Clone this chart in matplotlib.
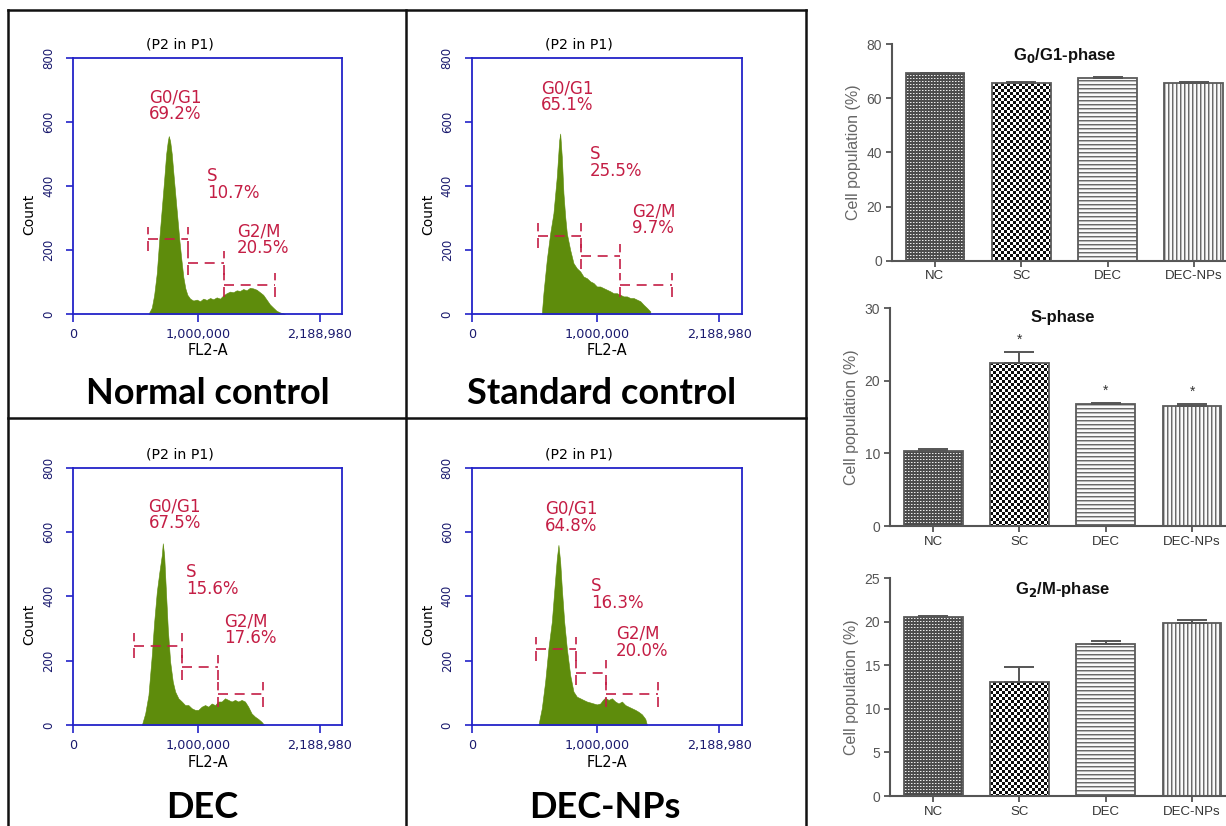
import numpy as np
import matplotlib
matplotlib.use("Agg")
import matplotlib.pyplot as plt
from matplotlib.lines import Line2D

# ---------------- data ----------------
panel_titles = ["Normal control", "Standard control", "DEC", "DEC-NPs"]

# histogram outlines: FL2-A (millions) and counts
nc_x = [0.605, 0.632, 0.651, 0.672, 0.693, 0.712, 0.731, 0.747, 0.760, 0.768, 0.779, 0.792,
        0.805, 0.821, 0.837, 0.853, 0.869, 0.885, 0.901, 0.917, 0.939, 0.965, 0.992, 1.019,
        1.045, 1.072, 1.099, 1.125, 1.152, 1.179, 1.205, 1.232, 1.259, 1.285, 1.312, 1.339,
        1.365, 1.392, 1.419, 1.445, 1.472, 1.499, 1.525, 1.552, 1.579, 1.605, 1.632, 1.659,
        1.685, 1.700]
nc_y = [0, 20, 60, 128, 240, 330, 420, 500, 540, 556, 540, 500,
        440, 370, 300, 230, 170, 115, 80, 60, 48, 42, 45, 40,
        48, 44, 50, 46, 52, 48, 58, 65, 70, 68, 74, 72,
        78, 74, 82, 80, 76, 68, 60, 45, 30, 20, 10, 5,
        2, 0]

sc_x = [0.560, 0.573, 0.600, 0.627, 0.653, 0.680, 0.699, 0.707, 0.720, 0.733, 0.747, 0.760,
        0.787, 0.813, 0.840, 0.867, 0.893, 0.920, 0.947, 0.973, 1.000, 1.027, 1.053, 1.080,
        1.107, 1.133, 1.160, 1.187, 1.213, 1.240, 1.267, 1.293, 1.320, 1.347, 1.373, 1.400,
        1.427]
sc_y = [0, 65, 170, 252, 315, 430, 543, 564, 490, 377, 304, 252,
        200, 159, 143, 133, 117, 112, 102, 97, 86, 86, 81, 76,
        71, 65, 65, 60, 55, 55, 50, 50, 45, 40, 29, 19, 8]

dec_x = [0.552, 0.579, 0.605, 0.632, 0.651, 0.672, 0.693, 0.712, 0.720, 0.731, 0.744, 0.760,
         0.779, 0.800, 0.819, 0.845, 0.872, 0.899, 0.925, 0.952, 0.979, 1.005, 1.032, 1.059,
         1.085, 1.112, 1.139, 1.165, 1.192, 1.219, 1.245, 1.272, 1.299, 1.325, 1.352, 1.379,
         1.405, 1.432, 1.459, 1.485, 1.512, 1.533]
dec_y = [0, 36, 93, 218, 321, 414, 477, 528, 565, 528, 425, 300,
         197, 135, 104, 83, 73, 62, 62, 52, 47, 47, 57, 62,
         57, 67, 62, 73, 73, 83, 78, 73, 78, 73, 78, 73,
         57, 36, 26, 19, 10, 0]

np_x = [0.533, 0.560, 0.587, 0.613, 0.640, 0.661, 0.680, 0.693, 0.707, 0.720, 0.739, 0.760,
        0.787, 0.813, 0.840, 0.867, 0.893, 0.920, 0.947, 0.973, 1.000, 1.027, 1.048, 1.067,
        1.093, 1.120, 1.147, 1.173, 1.200, 1.227, 1.253, 1.280, 1.307, 1.333, 1.360, 1.387,
        1.400]
np_y = [0, 52, 135, 238, 321, 425, 518, 560, 507, 425, 321, 238,
        155, 104, 88, 83, 78, 73, 70, 67, 64, 67, 78, 85,
        78, 83, 73, 67, 73, 62, 57, 52, 47, 41, 33, 19, 0]

hist_x = [nc_x, sc_x, dec_x, np_x]
hist_y = [nc_y, sc_y, dec_y, np_y]

# gate boundaries (FL2-A, millions) and gate marker heights (counts)
gate_edges = [[0.60, 0.92, 1.21, 1.62],
              [0.533, 0.872, 1.181, 1.60],
              [0.493, 0.872, 1.165, 1.52],
              [0.515, 0.832, 1.075, 1.485]]
gate_levels = [[235, 159, 91],
               [245, 180, 90],
               [247, 179, 95],
               [236, 163, 95]]

phase_names = ["G0/G1", "S", "G2/M"]
phase_pct = [["69.2%", "10.7%", "20.5%"],
             ["65.1%", "25.5%", "9.7%"],
             ["67.5%", "15.6%", "17.6%"],
             ["64.8%", "16.3%", "20.0%"]]
# label anchors (FL2-A millions, count at top of text)
label_x = [[0.611, 1.077, 1.317], [0.552, 0.947, 1.280],
           [0.605, 0.904, 1.211], [0.587, 0.952, 1.152]]
label_top = [[705, 459, 286], [734, 527, 350],
             [708, 504, 350], [700, 460, 311]]

hist_xticks = [0, 1.0, 1.979]
hist_xticklabels = ["0", "1,000,000", "2,188,980"]
hist_yticks = [0, 200, 400, 600, 800]

groups = ["NC", "SC", "DEC", "DEC-NPs"]
g01_vals = [69.2, 65.6, 67.3, 65.6]
g01_err = [0.25, 0.2, 0.45, 0.2]
s_vals = [10.4, 22.5, 16.8, 16.6]
s_err = [0.15, 1.5, 0.2, 0.15]
s_sig = [False, True, True, True]
g2m_vals = [20.5, 13.1, 17.5, 19.9]
g2m_err = [0.2, 1.7, 0.3, 0.35]

# ---------------- figure ----------------
W, H = 1226, 826
fig = plt.figure(figsize=(W / 100, H / 100), dpi=100)
fig.patch.set_facecolor("white")


def box(l, t, r, b):
    return [l / W, 1 - b / H, (r - l) / W, (b - t) / H]


GREEN = "#5E8C0C"
CRIMSON = "#C41E45"
BLUE = "#2323C8"
NAVY = "#1A1A6E"

hist_boxes = [box(73, 58, 342, 314), box(471.7, 58, 741.7, 314),
              box(73, 467.7, 342, 725), box(471.7, 467.7, 741.7, 725)]
title_centers = [(208, 393), (602, 393), (202, 807), (605, 807)]

for k in range(4):
    ax = fig.add_axes(hist_boxes[k])
    xs = np.array(hist_x[k])
    ys = np.array(hist_y[k])
    ax.fill_between(xs, ys, 0, color=GREEN, linewidth=0.4, edgecolor=GREEN, zorder=2)
    e = gate_edges[k]
    lv = gate_levels[k]
    for g in range(3):
        ax.plot([e[g], e[g + 1]], [lv[g], lv[g]], color=CRIMSON, lw=1.2,
                dashes=(6, 4), zorder=3)
        for xe in (e[g], e[g + 1]):
            ax.plot([xe, xe], [lv[g] - 38, lv[g] + 38], color=CRIMSON, lw=1.2,
                    dashes=(6, 4), zorder=3)
        ax.text(label_x[k][g], label_top[k][g], phase_names[g] + "\n" + phase_pct[k][g],
                color=CRIMSON, fontsize=12, family="DejaVu Sans", va="top", ha="left",
                linespacing=0.92, zorder=4)
    ax.set_xlim(0, 2.157)
    ax.set_ylim(0, 800)
    ax.set_xticks(hist_xticks)
    ax.set_xticklabels(hist_xticklabels, family="DejaVu Sans", fontsize=9.2, color=NAVY)
    ax.set_yticks(hist_yticks)
    ax.set_yticklabels([str(v) for v in hist_yticks], family="DejaVu Sans", fontsize=8.5,
                       color=NAVY, rotation=90, va="center")
    ax.tick_params(axis="x", direction="out", length=6, width=1.2, color=BLUE, pad=4)
    ax.tick_params(axis="y", direction="out", length=5, width=1.2, color=BLUE, pad=8)
    for sp in ax.spines.values():
        sp.set_color(BLUE)
        sp.set_linewidth(1.3)
    ax.set_xlabel("FL2-A", family="DejaVu Sans", fontsize=10.5)
    ax.xaxis.set_label_coords(0.5, -0.115)
    ax.set_ylabel("Count", family="DejaVu Sans", fontsize=10)
    ax.yaxis.set_label_coords(-0.135, 0.39)
    ax.text(0.396, 1.052, "(P2 in P1)", transform=ax.transAxes, ha="center", va="center",
            family="DejaVu Sans", fontsize=10.2)
    cx, cy = title_centers[k]
    fig.text(cx / W, 1 - cy / H, panel_titles[k], ha="center", va="center",
             family="Lato", fontweight="bold", fontsize=26)

# panel frame lines
def fline(x0, y0, x1, y1):
    fig.add_artist(Line2D([x0 / W, x1 / W], [1 - y0 / H, 1 - y1 / H], color="#111111",
                          lw=1.8, transform=fig.transFigure))

fline(8, 10, 806, 10)
fline(8, 10, 8, 826)
fline(406, 10, 406, 826)
fline(806, 10, 806, 826)
fline(8, 418, 806, 418)

# ---------------- bar charts ----------------
def pattern(kind, h, w):
    i, j = np.indices((h, w))
    if kind == "fine":
        a = np.full((h, w), 0.30)
        a[(i % 3 == 1) & (j % 3 == 1)] = 0.92
        a[(i % 3 == 1) & (j % 3 == 2)] = 0.6
    elif kind == "checker":
        a = np.where(((i // 3) + (j // 3)) % 2 == 0, 0.05, 1.0)
    elif kind == "hlines":
        a = np.where(i % 4 == 0, 0.42, np.where(i % 4 == 1, 0.72, 0.98))
    else:
        a = np.where(j % 4 == 0, 0.42, np.where(j % 4 == 1, 0.72, 0.98))
    return a

kinds = ["fine", "checker", "hlines", "vlines"]
bar_w = 0.68
GREY = "#555555"

def bar_panel(rect, vals, errs, ymax, yticks, title, sig=None):
    ax = fig.add_axes(rect)
    xpos = np.arange(len(groups))
    bars = ax.bar(xpos, vals, width=bar_w, facecolor="none", edgecolor="#5a5a5a",
                  linewidth=1.3, zorder=3)
    hpx = int(round(rect[3] * H))
    wpx = int(round(bar_w * rect[2] * W / 4.0))
    for b, kd, xp in zip(bars, kinds, xpos):
        im = ax.imshow(pattern(kd, hpx, wpx), cmap="gray", vmin=0, vmax=1,
                       extent=(xp - bar_w / 2, xp + bar_w / 2, 0, ymax), aspect="auto",
                       interpolation="nearest", zorder=2)
        im.set_clip_path(b)
    ax.errorbar(xpos, vals, yerr=[[0] * len(vals), errs], fmt="none", ecolor="#555555",
                elinewidth=1.4, capsize=11, capthick=1.4, zorder=4)
    if sig is not None:
        for xp, v, e, s in zip(xpos, vals, errs, sig):
            if s:
                ax.text(xp, v + e + 1.7, "*", ha="center", va="center", fontsize=10,
                        color="#333333", family="Liberation Sans", zorder=5)
    ax.set_xlim(-0.5, 3.5)
    ax.set_ylim(0, ymax)
    ax.set_yticks(yticks)
    ax.set_yticklabels([str(t) for t in yticks], family="Liberation Sans", fontsize=10,
                       color="#555555")
    ax.set_xticks(xpos)
    ax.set_xticklabels(groups, family="Liberation Sans", fontsize=9.5, color="#333333")
    ax.tick_params(axis="both", direction="out", length=4, width=1.3, color=GREY, pad=3)
    ax.spines["top"].set_visible(False)
    ax.spines["right"].set_visible(False)
    for s in ("left", "bottom"):
        ax.spines[s].set_color(GREY)
        ax.spines[s].set_linewidth(1.5)
    ax.set_ylabel("Cell population (%)", family="Liberation Sans", fontsize=11.5,
                  color="#666666")
    ax.yaxis.set_label_coords(-0.09, 0.5)
    ax.text(0.5, 0.99, title, transform=ax.transAxes, ha="center", va="top",
            family="Liberation Sans", fontweight="bold", fontsize=12, color="#111111")
    ax.set_facecolor("none")
    return ax

bar_panel(box(891.7, 44, 1237, 260.7), g01_vals, g01_err, 80, [0, 20, 40, 60, 80],
          r"G$_{\mathbf{0}}$/G1-phase")
bar_panel(box(890, 308.3, 1235.3, 526), s_vals, s_err, 30, [0, 10, 20, 30],
          "S-phase", sig=s_sig)
bar_panel(box(890, 578.3, 1235.3, 796), g2m_vals, g2m_err, 25, [0, 5, 10, 15, 20, 25],
          r"G$_{\mathbf{2}}$/M-phase")

fig.savefig("out.png", dpi=100, facecolor="white")
